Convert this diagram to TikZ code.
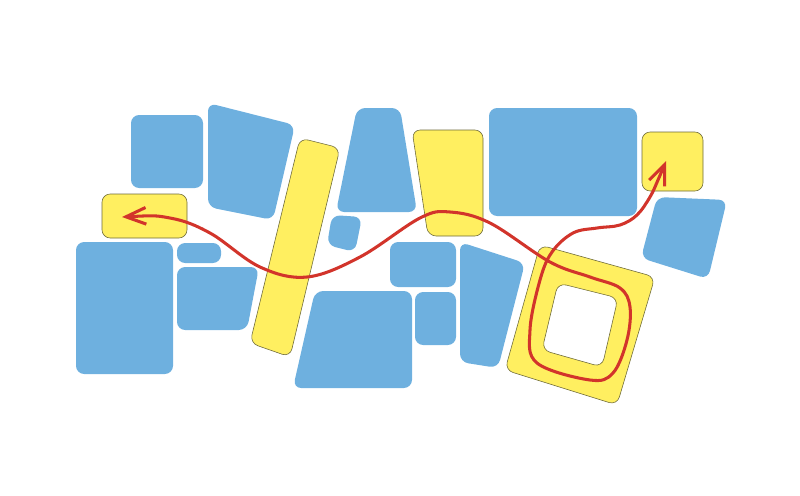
\documentclass[tikz,border=0pt]{standalone}
\usepackage{tikz}
\usetikzlibrary{arrows.meta}
\definecolor{blockblue}{HTML}{6EB0DF}
\definecolor{blockyellow}{HTML}{FFEF60}
\definecolor{edgeolive}{HTML}{6E6A3A}
\definecolor{routered}{HTML}{D2342B}
\tikzstyle{bblock} = [fill=blockblue, rounded corners=7pt]
\tikzstyle{yblock} = [fill=blockyellow, draw=edgeolive, line width=0.5pt, rounded corners=7pt]
\tikzstyle{route} = [draw=routered, line width=2.6pt, line cap=round]

\begin{document}
\begin{tikzpicture}[x=0.03cm, y=-0.03cm]
			\useasboundingbox (0,0) rectangle (800,495);
			
			% blue blocks
			\path [bblock] (131,115) rectangle (203,188);
			\path [bblock] (208,103) -- (295,125) -- (273,220) -- (208,207) -- cycle;
			\path [bblock] (357,108) -- (400,108) -- (417,212) -- (336,212) -- cycle;
			\path [bblock] (332,215) -- (362,217) -- (355,252) -- (327,245) -- cycle;
			\path [bblock] (76,242) rectangle (173,374);
			\path [bblock] (177,243) rectangle (221,263);
			\path [bblock] (177,267) -- (259,267) -- (247,330) -- (177,330) -- cycle;
			\path [bblock] (315,291) -- (412,291) -- (412,388) -- (293,388) -- cycle;
			\path [bblock] (489,108) rectangle (637,216);
			\path [bblock] (657,197) -- (727,200) -- (708,279) -- (641,258) -- cycle;
			\path [bblock] (390,242) rectangle (456,287);
			\path [bblock] (415,292) rectangle (456,345);
			\path [bblock] (460,242) -- (525,263) -- (498,368) -- (460,362) -- cycle;
			
			% yellow blocks
			\path [yblock] (102,194) rectangle (187,238);
			\path [yblock] (300,138) -- (340,148) -- (290,357) -- (250,343) -- cycle;
			\path [yblock] (412,130) -- (483,130) -- (483,236) -- (428,236) -- cycle;
			\path [yblock] (642,132) rectangle (703,191);
			\path [yblock, even odd rule] (540,245) -- (655,277) -- (617,405) -- (505,370) -- cycle
				(558,283) -- (618,298) -- (602,367) -- (542,350) -- cycle;
			
			% route
			\draw [route, {Straight Barb[length=6mm, width=5mm]}-{Straight Barb[length=6mm, width=5mm]}] plot [smooth, tension=0.6] coordinates {(122,217) (170,218) (210,233) (260,267) (307,277) (360,257) (420,218) (450,212) (490,223) (550,262) (590,277) (620,288) (630,307) (627,340) (613,373) (590,380) (537,363) (530,330) (540,280) (552,252) (573,233) (597,228) (620,225) (637,215) (650,197) (658,180) (666,161)};
		\end{tikzpicture}
\end{document}
